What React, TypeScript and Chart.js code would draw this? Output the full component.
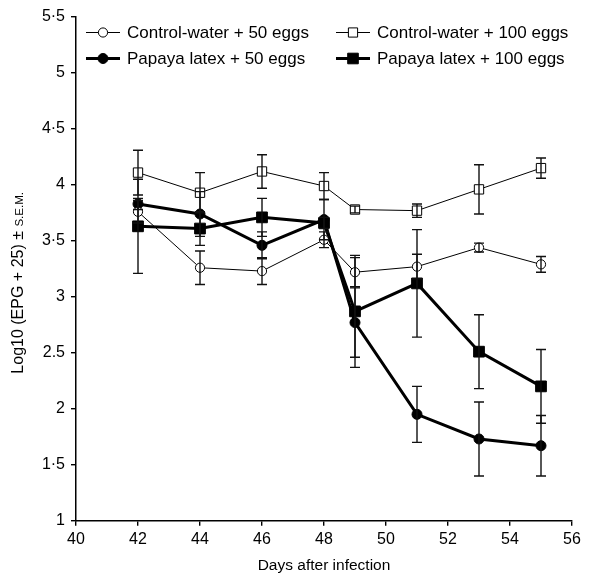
import { useEffect, useRef } from "react";
import { Chart, registerables } from "chart.js";
Chart.register(...registerables);

const days = [42, 44, 46, 48, 49, 51, 53, 55];
const ctrl50 = [3.76, 3.26, 3.23, 3.51, 3.22, 3.27, 3.44, 3.29];
const ctrl50Err = [0.1, 0.15, 0.12, 0.07, 0.13, 0.11, 0.04, 0.07];
const ctrl100 = [4.11, 3.93, 4.12, 3.99, 3.78, 3.77, 3.96, 4.15];
const ctrl100Err = [0.2, 0.18, 0.15, 0.12, 0.03, 0.06, 0.22, 0.09];
const pap50 = [3.83, 3.74, 3.46, 3.69, 2.77, 1.95, 1.73, 1.67];
const pap50Err = [0.05, 0.2, 0.12, 0.18, 0.31, 0.25, 0.33, 0.27];
const pap100 = [3.63, 3.61, 3.71, 3.66, 2.87, 3.12, 2.51, 2.2];
const pap100Err = [0.42, 0.15, 0.17, 0.05, 0.5, 0.48, 0.33, 0.33];

const seriesNames = [
  "Control-water + 50 eggs",
  "Control-water + 100 eggs",
  "Papaya latex + 50 eggs",
  "Papaya latex + 100 eggs",
];
const yTickLabels = ["1", "1·5", "2", "2.5", "3", "3·5", "4", "4·5", "5", "5·5"];
const xTitle = "Days after infection";
const yTitleMain = "Log10 (EPG + 25) ± ";
const yTitleSmall = "S.E.M.";

const FONT = "'Liberation Sans', Arial, Helvetica, sans-serif";

const styles = [
  { lw: 1, shape: "circle", r: 4.6, fill: "#ffffff", size: 4.6 },
  { lw: 1, shape: "rect", r: 6.6, fill: "#ffffff", size: 4.6 },
  { lw: 3, shape: "circle", r: 5, fill: "#000000", size: 5 },
  { lw: 3, shape: "rect", r: 7.6, fill: "#000000", size: 5.3 },
];

export default function App() {
  const ref = useRef<HTMLCanvasElement | null>(null);
  useEffect(() => {
    if (!ref.current) return;
    const values = [ctrl50, ctrl100, pap50, pap100];
    const errors = [ctrl50Err, ctrl100Err, pap50Err, pap100Err];

    const errorBars = {
      id: "errorBars",
      afterDatasetsDraw(chart: any) {
        const ctx = chart.ctx;
        const ys = chart.scales.y;
        ctx.save();
        ctx.strokeStyle = "#111";
        ctx.lineWidth = 1.4;
        values.forEach((vals, i) => {
          const meta = chart.getDatasetMeta(i);
          vals.forEach((v, j) => {
            const x = meta.data[j].x;
            const yt = ys.getPixelForValue(v + errors[i][j]);
            const yb = ys.getPixelForValue(v - errors[i][j]);
            ctx.beginPath();
            ctx.moveTo(x, yt);
            ctx.lineTo(x, yb);
            ctx.moveTo(x - 5, yt);
            ctx.lineTo(x + 5, yt);
            ctx.moveTo(x - 5, yb);
            ctx.lineTo(x + 5, yb);
            ctx.stroke();
          });
        });
        ctx.restore();
      },
    };

    const decorations = {
      id: "decorations",
      afterDraw(chart: any) {
        const ctx = chart.ctx;
        const ca = chart.chartArea;
        ctx.save();
        // legend
        const cols = [ca.left + 10, ca.left + 260];
        const rows = [ca.top + 15.5, ca.top + 41.5];
        seriesNames.forEach((name, i) => {
          const st = styles[i];
          const x0 = cols[i % 2];
          const y0 = rows[Math.floor(i / 2)];
          ctx.strokeStyle = "#000";
          ctx.lineWidth = st.lw;
          ctx.beginPath();
          ctx.moveTo(x0, y0);
          ctx.lineTo(x0 + 34, y0);
          ctx.stroke();
          const cx = x0 + 17;
          ctx.fillStyle = st.fill;
          ctx.lineWidth = 1;
          ctx.beginPath();
          if (st.shape === "circle") {
            ctx.arc(cx, y0, st.size, 0, Math.PI * 2);
          } else {
            ctx.rect(cx - st.size, y0 - st.size, st.size * 2, st.size * 2);
          }
          ctx.fill();
          ctx.stroke();
          ctx.fillStyle = "#000";
          ctx.font = `17px ${FONT}`;
          ctx.textAlign = "left";
          ctx.textBaseline = "middle";
          ctx.fillText(name, x0 + 41, y0 + 1);
        });
        // x title
        ctx.fillStyle = "#000";
        ctx.font = `15.5px ${FONT}`;
        ctx.textAlign = "center";
        ctx.textBaseline = "middle";
        ctx.fillText(xTitle, (ca.left + ca.right) / 2, 566);
        // y title
        ctx.translate(18, (ca.top + ca.bottom) / 2 + 14);
        ctx.rotate(-Math.PI / 2);
        ctx.font = `16px ${FONT}`;
        const w1 = ctx.measureText(yTitleMain).width;
        ctx.font = `11.5px ${FONT}`;
        const w2 = ctx.measureText(yTitleSmall).width;
        const start = -(w1 + w2) / 2;
        ctx.textAlign = "left";
        ctx.textBaseline = "alphabetic";
        ctx.font = `16px ${FONT}`;
        ctx.fillText(yTitleMain, start, 5);
        ctx.font = `11.5px ${FONT}`;
        ctx.fillText(yTitleSmall, start + w1, 5);
        ctx.restore();
      },
    };

    const chart = new Chart(ref.current, {
      type: "line",
      data: {
        datasets: values.map((vals, i) => ({
          label: seriesNames[i],
          data: vals.map((v, j) => ({ x: days[j], y: v })),
          borderColor: "#000",
          borderWidth: styles[i].lw,
          pointStyle: styles[i].shape as any,
          pointRadius: styles[i].r,
          pointHoverRadius: styles[i].r,
          pointBackgroundColor: styles[i].fill,
          pointBorderColor: "#000",
          pointBorderWidth: 1,
          tension: 0,
          fill: false,
        })),
      },
      options: {
        animation: false,
        responsive: true,
        maintainAspectRatio: false,
        layout: { padding: { left: 0, top: 17, right: 37, bottom: 0 } },
        plugins: { legend: { display: false }, tooltip: { enabled: false } },
        scales: {
          x: {
            type: "linear",
            min: 40,
            max: 56,
            ticks: { stepSize: 2, color: "#000", font: { family: FONT, size: 16 }, padding: 4 },
            grid: { drawOnChartArea: false, drawTicks: true, tickLength: 5, color: "#000", lineWidth: 1.4 },
            border: { display: true, color: "#000", width: 1.5 },
            afterFit: (s: any) => {
              s.height = 59.3;
            },
          },
          y: {
            type: "linear",
            min: 1,
            max: 5.5,
            ticks: {
              stepSize: 0.5,
              color: "#000",
              font: { family: FONT, size: 16 },
              padding: 6,
              callback: (v: any) => yTickLabels[Math.round((Number(v) - 1) * 2)],
            },
            grid: { drawOnChartArea: false, drawTicks: true, tickLength: 5, color: "#000", lineWidth: 1.4 },
            border: { display: true, color: "#000", width: 1.5 },
            afterFit: (s: any) => {
              s.width = 76;
            },
          },
        },
      },
      plugins: [errorBars, decorations],
    });
    return () => chart.destroy();
  }, []);
  return (
    <div style={{ position: "absolute", left: 0, top: 0, width: 609, height: 580, background: "#fff" }}>
      <canvas ref={ref} />
    </div>
  );
}
